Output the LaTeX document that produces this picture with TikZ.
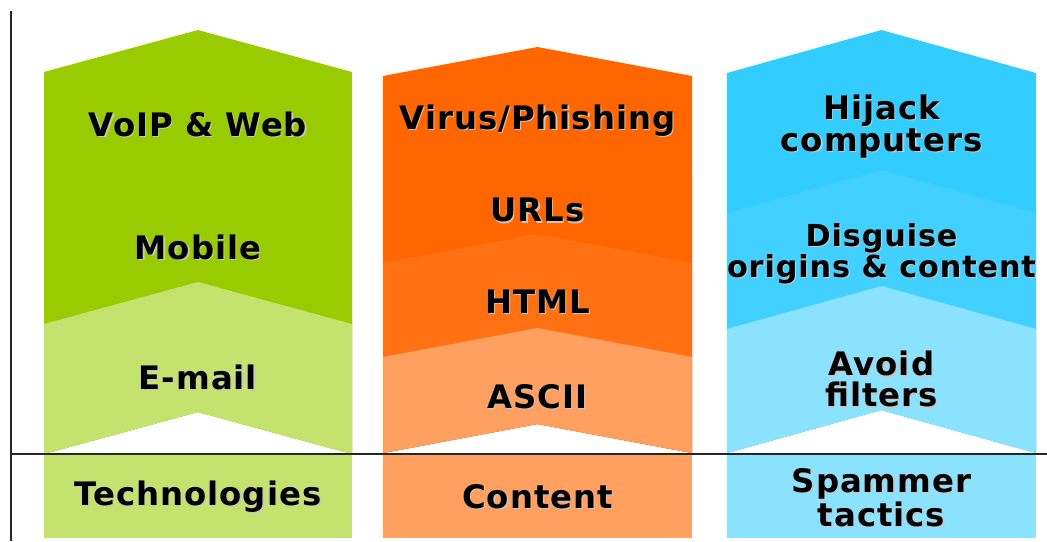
\documentclass[tikz,border=0pt]{standalone}
\usepackage{fontspec}
\setmainfont{DejaVu Sans}[LetterSpace=3]

\definecolor{techgreen}{HTML}{99CC00}
\definecolor{contorange}{HTML}{FF6600}
\definecolor{tactblue}{HTML}{33CCFF}

% left, right, apex, tip depth, bottom, fill
\newcommand{\chevron}[6]{%
  \fill[#6] (#1,#3+#4) -- ({(#1+#2)/2},#3) -- (#2,#3+#4) -- (#2,#5) -- ({(#1+#2)/2},#5-#4) -- (#1,#5) -- cycle;}
\newcommand{\shd}[1]{\makebox[0pt][l]{\hspace{0.9pt}\raisebox{-0.9pt}{\textcolor{black!22}{#1}}}#1}

\begin{document}
\begin{tikzpicture}[x=0.025cm, y=-0.025cm,
  lbl/.style={font=\fontsize{23}{22}\selectfont\bfseries, align=center, inner sep=0pt}]
\useasboundingbox (0,0) rectangle (1047,541);

\chevron{44}{352}{30}{42}{454}{techgreen}
\chevron{44}{352}{160}{42}{454}{techgreen}
\chevron{44}{352}{282}{42}{454}{techgreen!57}
\fill[techgreen!57] (44,454) rectangle (352,538);

\chevron{383}{692}{47}{29}{453}{contorange}
\chevron{383}{692}{146}{29}{453}{contorange}
\chevron{383}{692}{234}{29}{453}{contorange!93}
\chevron{383}{692}{328}{29}{453}{contorange!62}
\fill[contorange!62] (383,454) rectangle (692,538);

\chevron{727}{1036}{30}{43}{453}{tactblue}
\chevron{727}{1036}{170}{43}{453}{tactblue!93}
\chevron{727}{1036}{286}{43}{453}{tactblue!57}
\fill[tactblue!57] (727,454) rectangle (1036,538);

\coordinate (axtop) at (11,11);
\coordinate (axbot) at (11,541);
\coordinate (axright) at (1047,454);
\draw[line width=1.1pt, black!85] (axtop) -- (axbot);
\draw[line width=1.1pt, black!85] (axtop |- axright) -- (axright);

\node[lbl] (voip) at (198,125) {\shd{VoIP \& Web}};
\node[lbl] (mobile) at (198,248) {\shd{Mobile}};
\node[lbl] (email) at (198,378) {\shd{E-mail}};
\node[lbl] (tech) at (198,497) {\shd{Technologies}};

\node[lbl] (virus) at (537.5,121) {\shd{Virus/Phishing}};
\node[lbl] (urls) at (537.5,211) {\shd{URLs}};
\node[lbl] (html) at (537.5,302) {\shd{HTML}};
\node[lbl] (ascii) at (537.5,397) {\shd{ASCII}};
\node[lbl] (content) at (537.5,497) {\shd{Content}};

\node[lbl] (hijack) at (881.5,127) {\shd{Hijack}\\\shd{computers}};
\node[lbl, font=\fontsize{21.5}{22}\selectfont\bfseries] (disguise) at (881.5,254) {\shd{Disguise}\\\shd{origins \& content}};
\node[lbl] (avoid) at (881.5,380) {\shd{Avoid}\\\shd{filters}};
\node[lbl] (spammer) at (881.5,498) {\shd{Spammer}\\\shd{tactics}};
\end{tikzpicture}
\end{document}
